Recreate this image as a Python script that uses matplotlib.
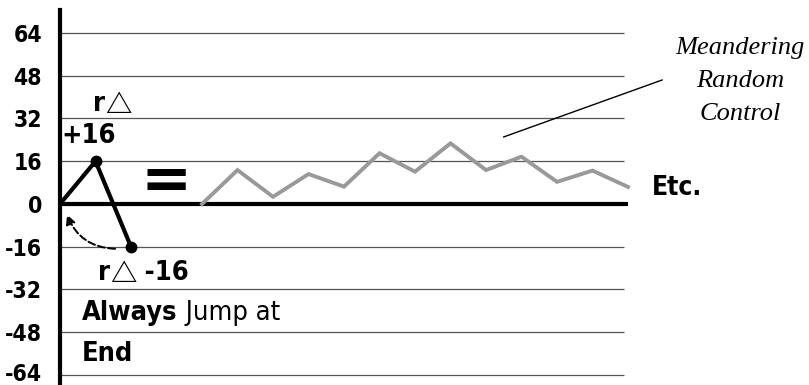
import matplotlib
matplotlib.use('Agg')
import matplotlib.pyplot as plt
import matplotlib.transforms as mtransforms

# y ticks / gridlines
y_ticks = [64, 48, 32, 16, 0, -16, -32, -48, -64]
y_labels = ['64', '48', '32', '16', '0', '-16', '-32', '-48', '-64']

# the jump: start, up one step, down one step
jump_x = [0, 1, 2]
jump_y = [0, 16, -16]

# meandering random control line
rand_x = [4, 5, 6, 7, 8, 9, 10, 11, 12, 13, 14, 15, 16]
rand_y = [0, 12.7, 2.7, 11.2, 6.5, 19, 12.1, 22.7, 12.7, 17.7, 8.3, 12.5, 6.4]

bold = dict(family='DejaVu Sans', fontstretch='condensed', fontweight='bold')
tri = dict(family='Noto Sans CJK JP', fontweight='bold')

fig = plt.figure(figsize=(8.09, 3.85), dpi=100)
ax = fig.add_axes([60 / 809, 0, 585.75 / 809, 375 / 385])
ax.set_xlim(0, 16.5)
ax.set_ylim(-67.74, 72.6)

for s in ['top', 'right', 'bottom']:
    ax.spines[s].set_visible(False)
ax.spines['left'].set_linewidth(3)
ax.spines['left'].set_color('black')

ax.set_xticks([])
ax.set_yticks(y_ticks)
ax.set_yticklabels(y_labels, fontsize=16.5, **bold)
ax.tick_params(axis='y', length=0, pad=13)
# nudge the bottom label up a touch so it stays inside the figure
lab = ax.get_yticklabels()[-1]
lab.set_transform(lab.get_transform() + mtransforms.ScaledTranslation(0, 3 / 100, fig.dpi_scale_trans))

# grid
grid_y = [v for v in y_ticks if v != 0]
ax.hlines(grid_y, 0, 15.9, color='#555555', lw=0.9, zorder=1)
ax.hlines([0], 0, 16.0, color='black', lw=3, zorder=3)

# lines
ax.plot(jump_x, jump_y, color='black', lw=3, zorder=4)
ax.plot(jump_x[1:], jump_y[1:], 'o', color='black', ms=7.5, zorder=5)
ax.plot(rand_x, rand_y, color='#999999', lw=2.8, zorder=4, solid_joinstyle='miter')

# dashed return arrow
ax.annotate('', xy=(0.17, -3.0), xytext=(1.63, -16.8),
            arrowprops=dict(arrowstyle='-|>', color='black', lw=1.4, ls='--',
                            connectionstyle='arc3,rad=-0.35', mutation_scale=14))

# labels
ax.text(2.99, 8.0, '=', fontsize=44, ha='center', va='center', fontweight='bold')

ya = 37.4
r1 = ax.text(0.93, ya, 'r', fontsize=19.5, ha='left', va='center', **bold)
ax.annotate('\u25b3', xy=(1, ya - 0.5), xycoords=(r1, 'data'), ha='left', va='center',
            fontsize=19, **tri)
ax.text(0.03, 25.6, '+16', fontsize=19.5, ha='left', va='center', **bold)

yb = -25.8
r2 = ax.text(1.07, yb, 'r', fontsize=19.5, ha='left', va='center', **bold)
d2 = ax.annotate('\u25b3', xy=(1, yb - 0.5), xycoords=(r2, 'data'), ha='left', va='center',
                 fontsize=19, **tri)
ax.annotate(' -16', xy=(1, yb), xycoords=(d2, 'data'), ha='left', va='center',
            fontsize=19.5, **bold)

t1 = ax.text(0.62, -40.8, 'Always', fontsize=19.5, ha='left', va='center', **bold)
ax.annotate(' Jump at', xy=(1, 0), xycoords=t1, va='bottom', ha='left', fontsize=19.5,
            family='DejaVu Sans', fontstretch='condensed')
ax.text(0.62, -56.1, 'End', fontsize=19.5, ha='left', va='center', **bold)
ax.text(16.68, 6.0, 'Etc.', fontsize=19, ha='left', va='center', **bold)

ax.text(19.15, 46.0, 'Meandering\nRandom\nControl', fontsize=19, ha='center', va='center',
        family='Liberation Serif', style='italic', linespacing=1.65)
ax.plot([12.5, 16.96], [25.1, 46.4], color='black', lw=1, clip_on=False)

fig.savefig('out.png', dpi=100)
